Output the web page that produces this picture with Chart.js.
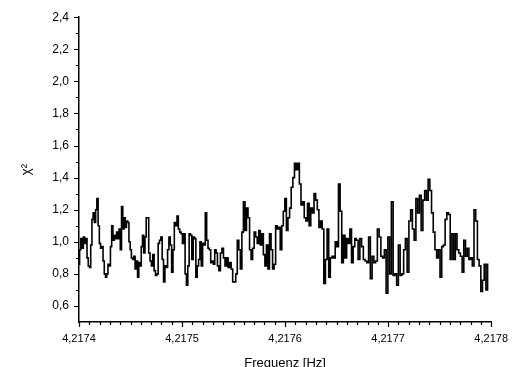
<!DOCTYPE html>
<html>
<head>
<meta charset="utf-8">
<script src="https://cdn.jsdelivr.net/npm/chart.js@4.4.1/dist/chart.umd.min.js"></script>
<style>
  body { margin: 0; background: #fff; }
  #wrap { width: 518px; height: 367px; position: relative; }
</style>
</head>
<body>
<div id="wrap"><canvas id="chart"></canvas></div>
<script>
"use strict"

// frequency where each stretch of readings starts/ends [Hz]
var freqEdges = [4.2174, 4.217467, 4.217535, 4.217602, 4.21767, 4.217738, 4.217799];

// chi^2 readings, one array per stretch
var chiSeg1 = [0.86, 0.95, 1.02, 0.96, 1.03, 0.99, 1.02, 0.90, 0.85, 0.84, 0.98, 1.14, 1.18, 1.12, 1.20, 1.27, 1.10, 0.99, 0.96, 0.97,
    0.88, 0.80, 0.78, 0.80, 0.86, 0.85, 0.97, 1.10, 1.01, 1.04, 1.02, 1.06, 1.02, 1.08, 0.95, 1.22, 1.08, 1.15, 1.09, 1.13,
    1.12, 1.00, 0.95, 0.90, 0.89, 0.91, 0.83, 0.88, 0.78, 0.87, 0.85, 0.97, 1.04, 0.93, 1.03, 1.15];
var chiSeg2 = [1.15, 0.93, 0.88, 0.85, 0.92, 0.82, 0.79, 0.80, 0.99, 1.01, 1.03, 0.89, 0.75, 0.85, 0.84, 0.95, 1.03, 0.98, 0.81, 0.95,
    1.12, 1.10, 1.16, 1.08, 1.06, 1.05, 0.99, 1.05, 0.80, 0.73, 0.85, 1.05, 1.04, 0.89, 1.03, 1.02, 0.78, 0.85, 0.89, 1.00,
    0.85, 0.99, 0.98, 1.18, 1.01, 0.96, 0.95, 0.87, 0.88, 0.86, 0.95, 0.93];
var chiSeg3 = [0.85, 0.82, 0.93, 0.96, 0.90, 0.85, 0.90, 0.84, 0.87, 0.83, 0.75, 0.75, 0.80, 1.01, 0.95, 0.83, 1.06, 1.25, 1.07, 1.21,
    1.15, 0.95, 0.89, 0.96, 1.06, 1.03, 0.99, 1.07, 0.98, 1.05, 0.92, 0.85, 0.98, 0.83, 1.05, 0.95, 0.83, 0.86, 1.10, 1.08,
    1.09, 0.95, 1.10, 1.19, 1.27];
var chiSeg4 = [1.07, 1.15, 1.21, 1.34, 1.40, 1.49, 1.45, 1.49, 1.36, 1.23, 1.25, 1.15, 1.13, 1.24, 1.10, 1.21, 1.18, 1.30, 1.26, 1.20,
    1.09, 1.13, 1.08, 0.74, 0.89, 1.08, 0.78, 0.90, 0.91, 0.90, 1.00, 0.97, 1.36, 1.19, 0.87, 1.04, 0.90, 1.02, 0.99, 1.08,
    0.87, 0.97, 1.02];
var chiSeg5 = [1.01, 0.89, 1.02, 0.97, 0.89, 0.88, 0.87, 1.03, 0.77, 0.91, 0.87, 0.88, 1.08, 1.03, 0.91, 0.90, 0.95, 0.68, 1.03, 0.80,
    1.25, 0.79, 0.80, 0.73, 0.98, 0.79, 0.80, 0.95, 1.02, 0.81, 1.13, 1.20, 1.08, 1.01, 1.27, 1.18, 1.29, 1.07, 1.26, 1.32];
var chiSeg6 = [1.26, 1.39, 1.32, 1.18, 1.06, 0.95, 0.90, 0.95, 0.78, 0.97, 0.98, 1.14, 1.18, 1.17, 0.89, 1.05, 0.89, 1.05, 0.95, 0.93,
    0.91, 0.81, 1.01, 0.91, 0.96, 0.89, 0.90, 0.85, 1.20, 1.13, 0.89, 0.85, 0.69, 0.76, 0.86, 0.70, 0.86];

var xTicks = [4.2174, 4.2175, 4.2176, 4.2177, 4.2178];
var yTicks = [0.6, 0.8, 1.0, 1.2, 1.4, 1.6, 1.8, 2.0, 2.2, 2.4];

var segments = [chiSeg1, chiSeg2, chiSeg3, chiSeg4, chiSeg5, chiSeg6];
var points = [];
for (var s = 0; s < segments.length; s++) {
    var seg = segments[s];
    var width = (freqEdges[s + 1] - freqEdges[s]) / seg.length;
    for (var k = 0; k < seg.length; k++) {
        points.push({ x: freqEdges[s] + k * width, y: seg[k] });
    }
}

var comma = function (v, digits) {
    return v.toFixed(digits).replace('.', ',');
}

// small outward ticks, major longer than minor (Origin style)
var axisTicks = {
    id: 'axisTicks',
    afterDraw: function (chart) {
        var ctx = chart.ctx;
        var xs = chart.scales.x;
        var ys = chart.scales.y;
        ctx.save();
        ctx.strokeStyle = '#000';
        ctx.lineWidth = 1.2;
        ctx.beginPath();
        for (var i = 0; i <= 40; i++) {
            var px = Math.round(xs.getPixelForValue(xTicks[0] + i * 0.00001)) + 0.5;
            var len = (i % 10 == 0) ? 5 : 3;
            ctx.moveTo(px, ys.bottom);
            ctx.lineTo(px, ys.bottom + len);
        }
        for (var j = 1; j <= 19; j++) {
            var py = Math.round(ys.getPixelForValue(0.5 + j * 0.1)) + 0.5;
            var l = (j % 2 == 1) ? 5 : 3;
            ctx.moveTo(xs.left, py);
            ctx.lineTo(xs.left - l, py);
        }
        ctx.stroke();
        ctx.restore();
    }
};

var font = "'Liberation Sans', Arial, sans-serif";

new Chart(document.getElementById('chart'), {
    type: 'line',
    data: {
        datasets: [{
            data: points,
            borderColor: '#000',
            borderWidth: 1.6,
            pointRadius: 0,
            stepped: 'middle',
            fill: false,
        }]
    },
    options: {
        responsive: true,
        maintainAspectRatio: false,
        animation: false,
        layout: { padding: { left: 0, right: 26, top: 16, bottom: 0 } },
        plugins: {
            legend: { display: false },
            tooltip: { enabled: false }
        },
        scales: {
            x: {
                type: 'linear',
                min: 4.2174,
                max: 4.2178,
                afterBuildTicks: function (scale) {
                    scale.ticks = xTicks.map(function (v) { return { value: v }; });
                },
                afterFit: function (scale) { scale.height = 45; },
                ticks: {
                    color: '#000',
                    padding: 10,
                    maxRotation: 0,
                    font: { family: font, size: 11 },
                    callback: function (v) { return comma(v, 4); }
                },
                grid: { drawOnChartArea: false, drawTicks: false },
                border: { display: true, color: '#000', width: 1.5 },
                title: {
                    display: true,
                    text: 'Frequenz [Hz]',
                    color: '#000',
                    padding: { top: 0, bottom: -4 },
                    font: { family: font, size: 13 }
                }
            },
            y: {
                min: 0.5,
                max: 2.4,
                afterBuildTicks: function (scale) {
                    scale.ticks = yTicks.map(function (v) { return { value: v }; });
                },
                afterFit: function (scale) { scale.width = 79; },
                ticks: {
                    color: '#000',
                    padding: 10,
                    font: { family: font, size: 12 },
                    callback: function (v) { return comma(v, 1); }
                },
                grid: { drawOnChartArea: false, drawTicks: false },
                border: { display: true, color: '#000', width: 1.5 },
                title: {
                    display: true,
                    text: 'χ²',
                    color: '#000',
                    padding: { top: 19, bottom: 0 },
                    font: { family: font, size: 13 }
                }
            }
        }
    },
    plugins: [axisTicks]
});
</script>
</body>
</html>
